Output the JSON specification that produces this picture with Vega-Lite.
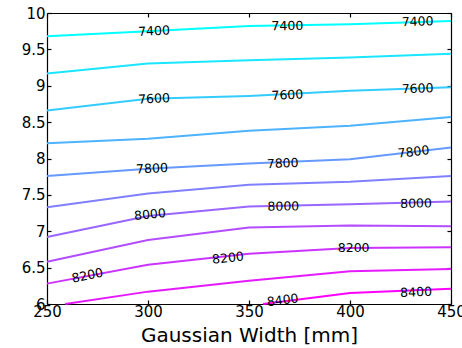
{
  "$schema": "https://vega.github.io/schema/vega-lite/v6.json",
  "autosize": "none",
  "width": 404,
  "height": 291,
  "padding": {"left": 47, "top": 13, "right": 11, "bottom": 44},
  "config": {
    "view": {"stroke": null},
    "font": "DejaVu Sans",
    "axis": {"grid": false, "domain": true, "domainColor": "black", "domainWidth": 1.2, "tickColor": "black", "labelColor": "black", "titleColor": "black", "labelFont": "DejaVu Sans", "titleFont": "DejaVu Sans", "labelFlush": false}
  },
  "datasets": {
    "lines": [
      {"level": 7400, "x": 250, "y": 9.68}, {"level": 7400, "x": 300, "y": 9.75}, {"level": 7400, "x": 350, "y": 9.82}, {"level": 7400, "x": 400, "y": 9.845}, {"level": 7400, "x": 450, "y": 9.89},
      {"level": 7500, "x": 250, "y": 9.17}, {"level": 7500, "x": 300, "y": 9.305}, {"level": 7500, "x": 350, "y": 9.35}, {"level": 7500, "x": 400, "y": 9.39}, {"level": 7500, "x": 450, "y": 9.44},
      {"level": 7600, "x": 250, "y": 8.66}, {"level": 7600, "x": 300, "y": 8.82}, {"level": 7600, "x": 350, "y": 8.86}, {"level": 7600, "x": 400, "y": 8.93}, {"level": 7600, "x": 450, "y": 8.98},
      {"level": 7700, "x": 250, "y": 8.21}, {"level": 7700, "x": 300, "y": 8.27}, {"level": 7700, "x": 350, "y": 8.38}, {"level": 7700, "x": 400, "y": 8.45}, {"level": 7700, "x": 450, "y": 8.57},
      {"level": 7800, "x": 250, "y": 7.76}, {"level": 7800, "x": 300, "y": 7.86}, {"level": 7800, "x": 350, "y": 7.93}, {"level": 7800, "x": 400, "y": 7.99}, {"level": 7800, "x": 450, "y": 8.15},
      {"level": 7900, "x": 250, "y": 7.33}, {"level": 7900, "x": 300, "y": 7.52}, {"level": 7900, "x": 350, "y": 7.64}, {"level": 7900, "x": 400, "y": 7.68}, {"level": 7900, "x": 450, "y": 7.76},
      {"level": 8000, "x": 250, "y": 6.92}, {"level": 8000, "x": 300, "y": 7.21}, {"level": 8000, "x": 350, "y": 7.34}, {"level": 8000, "x": 400, "y": 7.37}, {"level": 8000, "x": 450, "y": 7.41},
      {"level": 8100, "x": 250, "y": 6.58}, {"level": 8100, "x": 300, "y": 6.88}, {"level": 8100, "x": 350, "y": 7.05}, {"level": 8100, "x": 400, "y": 7.08}, {"level": 8100, "x": 450, "y": 7.07},
      {"level": 8200, "x": 250, "y": 6.28}, {"level": 8200, "x": 300, "y": 6.54}, {"level": 8200, "x": 350, "y": 6.69}, {"level": 8200, "x": 400, "y": 6.77}, {"level": 8200, "x": 450, "y": 6.78},
      {"level": 8300, "x": 259, "y": 6.0}, {"level": 8300, "x": 300, "y": 6.17}, {"level": 8300, "x": 350, "y": 6.32}, {"level": 8300, "x": 400, "y": 6.45}, {"level": 8300, "x": 450, "y": 6.48},
      {"level": 8400, "x": 357, "y": 6.0}, {"level": 8400, "x": 400, "y": 6.15}, {"level": 8400, "x": 450, "y": 6.21}
    ],
    "labels": [
      {"text": "7400", "x": 303, "y": 9.75, "angle": -3},
      {"text": "7400", "x": 369, "y": 9.82, "angle": -1},
      {"text": "7400", "x": 433.5, "y": 9.88, "angle": -2},
      {"text": "7600", "x": 303, "y": 8.82, "angle": -3},
      {"text": "7600", "x": 369, "y": 8.87, "angle": -3},
      {"text": "7600", "x": 433.5, "y": 8.96, "angle": -2},
      {"text": "7800", "x": 302, "y": 7.86, "angle": -3},
      {"text": "7800", "x": 366.7, "y": 7.93, "angle": -2},
      {"text": "7800", "x": 431.5, "y": 8.09, "angle": -7},
      {"text": "8000", "x": 301, "y": 7.23, "angle": -5},
      {"text": "8000", "x": 367, "y": 7.34, "angle": -1},
      {"text": "8000", "x": 432.7, "y": 7.38, "angle": -1},
      {"text": "8200", "x": 270, "y": 6.39, "angle": -12},
      {"text": "8200", "x": 339.6, "y": 6.63, "angle": -6},
      {"text": "8200", "x": 401.8, "y": 6.77, "angle": 0},
      {"text": "8400", "x": 366.7, "y": 6.05, "angle": -7},
      {"text": "8400", "x": 432.7, "y": 6.16, "angle": -2}
    ]
  },
  "resolve": {"axis": {"x": "independent", "y": "independent"}},
  "layer": [
    {
      "data": {"name": "lines"},
      "mark": {"type": "line", "strokeWidth": 2},
      "encoding": {
        "x": {"field": "x", "type": "quantitative", "scale": {"domain": [250, 450], "nice": false, "zero": false},
              "axis": {"values": [250, 300, 350, 400, 450], "tickSize": -4, "tickWidth": 1.2, "labelFontSize": 15, "labelPadding": 4, "title": "Gaussian Width [mm]", "titleFontSize": 20, "titleFontWeight": "normal", "titlePadding": 6}},
        "y": {"field": "y", "type": "quantitative", "scale": {"domain": [6, 10], "nice": false, "zero": false},
              "axis": {"values": [6, 6.5, 7, 7.5, 8, 8.5, 9, 9.5, 10], "format": "~f", "tickSize": -4, "tickWidth": 1.2, "labelFontSize": 15, "labelPadding": 6, "title": null}},
        "color": {"field": "level", "type": "ordinal", "legend": null,
                  "scale": {"domain": [7400, 7500, 7600, 7700, 7800, 7900, 8000, 8100, 8200, 8300, 8400],
                            "range": ["#00ffff", "#1ae6ff", "#33ccff", "#4db3ff", "#6699ff", "#8080ff", "#9966ff", "#b34dff", "#cc33ff", "#e61aff", "#ff00ff"]}}
      }
    },
    {
      "data": {"name": "labels"},
      "mark": {"type": "text", "fontSize": 12.5, "font": "DejaVu Sans", "color": "black", "align": "center", "baseline": "middle"},
      "encoding": {
        "x": {"field": "x", "type": "quantitative", "axis": {"orient": "top", "values": [250, 300, 350, 400, 450], "tickSize": -4, "tickWidth": 1.2, "labels": false, "title": null}},
        "y": {"field": "y", "type": "quantitative", "axis": {"orient": "right", "values": [6, 6.5, 7, 7.5, 8, 8.5, 9, 9.5, 10], "tickSize": -4, "tickWidth": 1.2, "labels": false, "title": null}},
        "text": {"field": "text"},
        "angle": {"field": "angle", "type": "quantitative", "scale": null}
      }
    }
  ]
}
